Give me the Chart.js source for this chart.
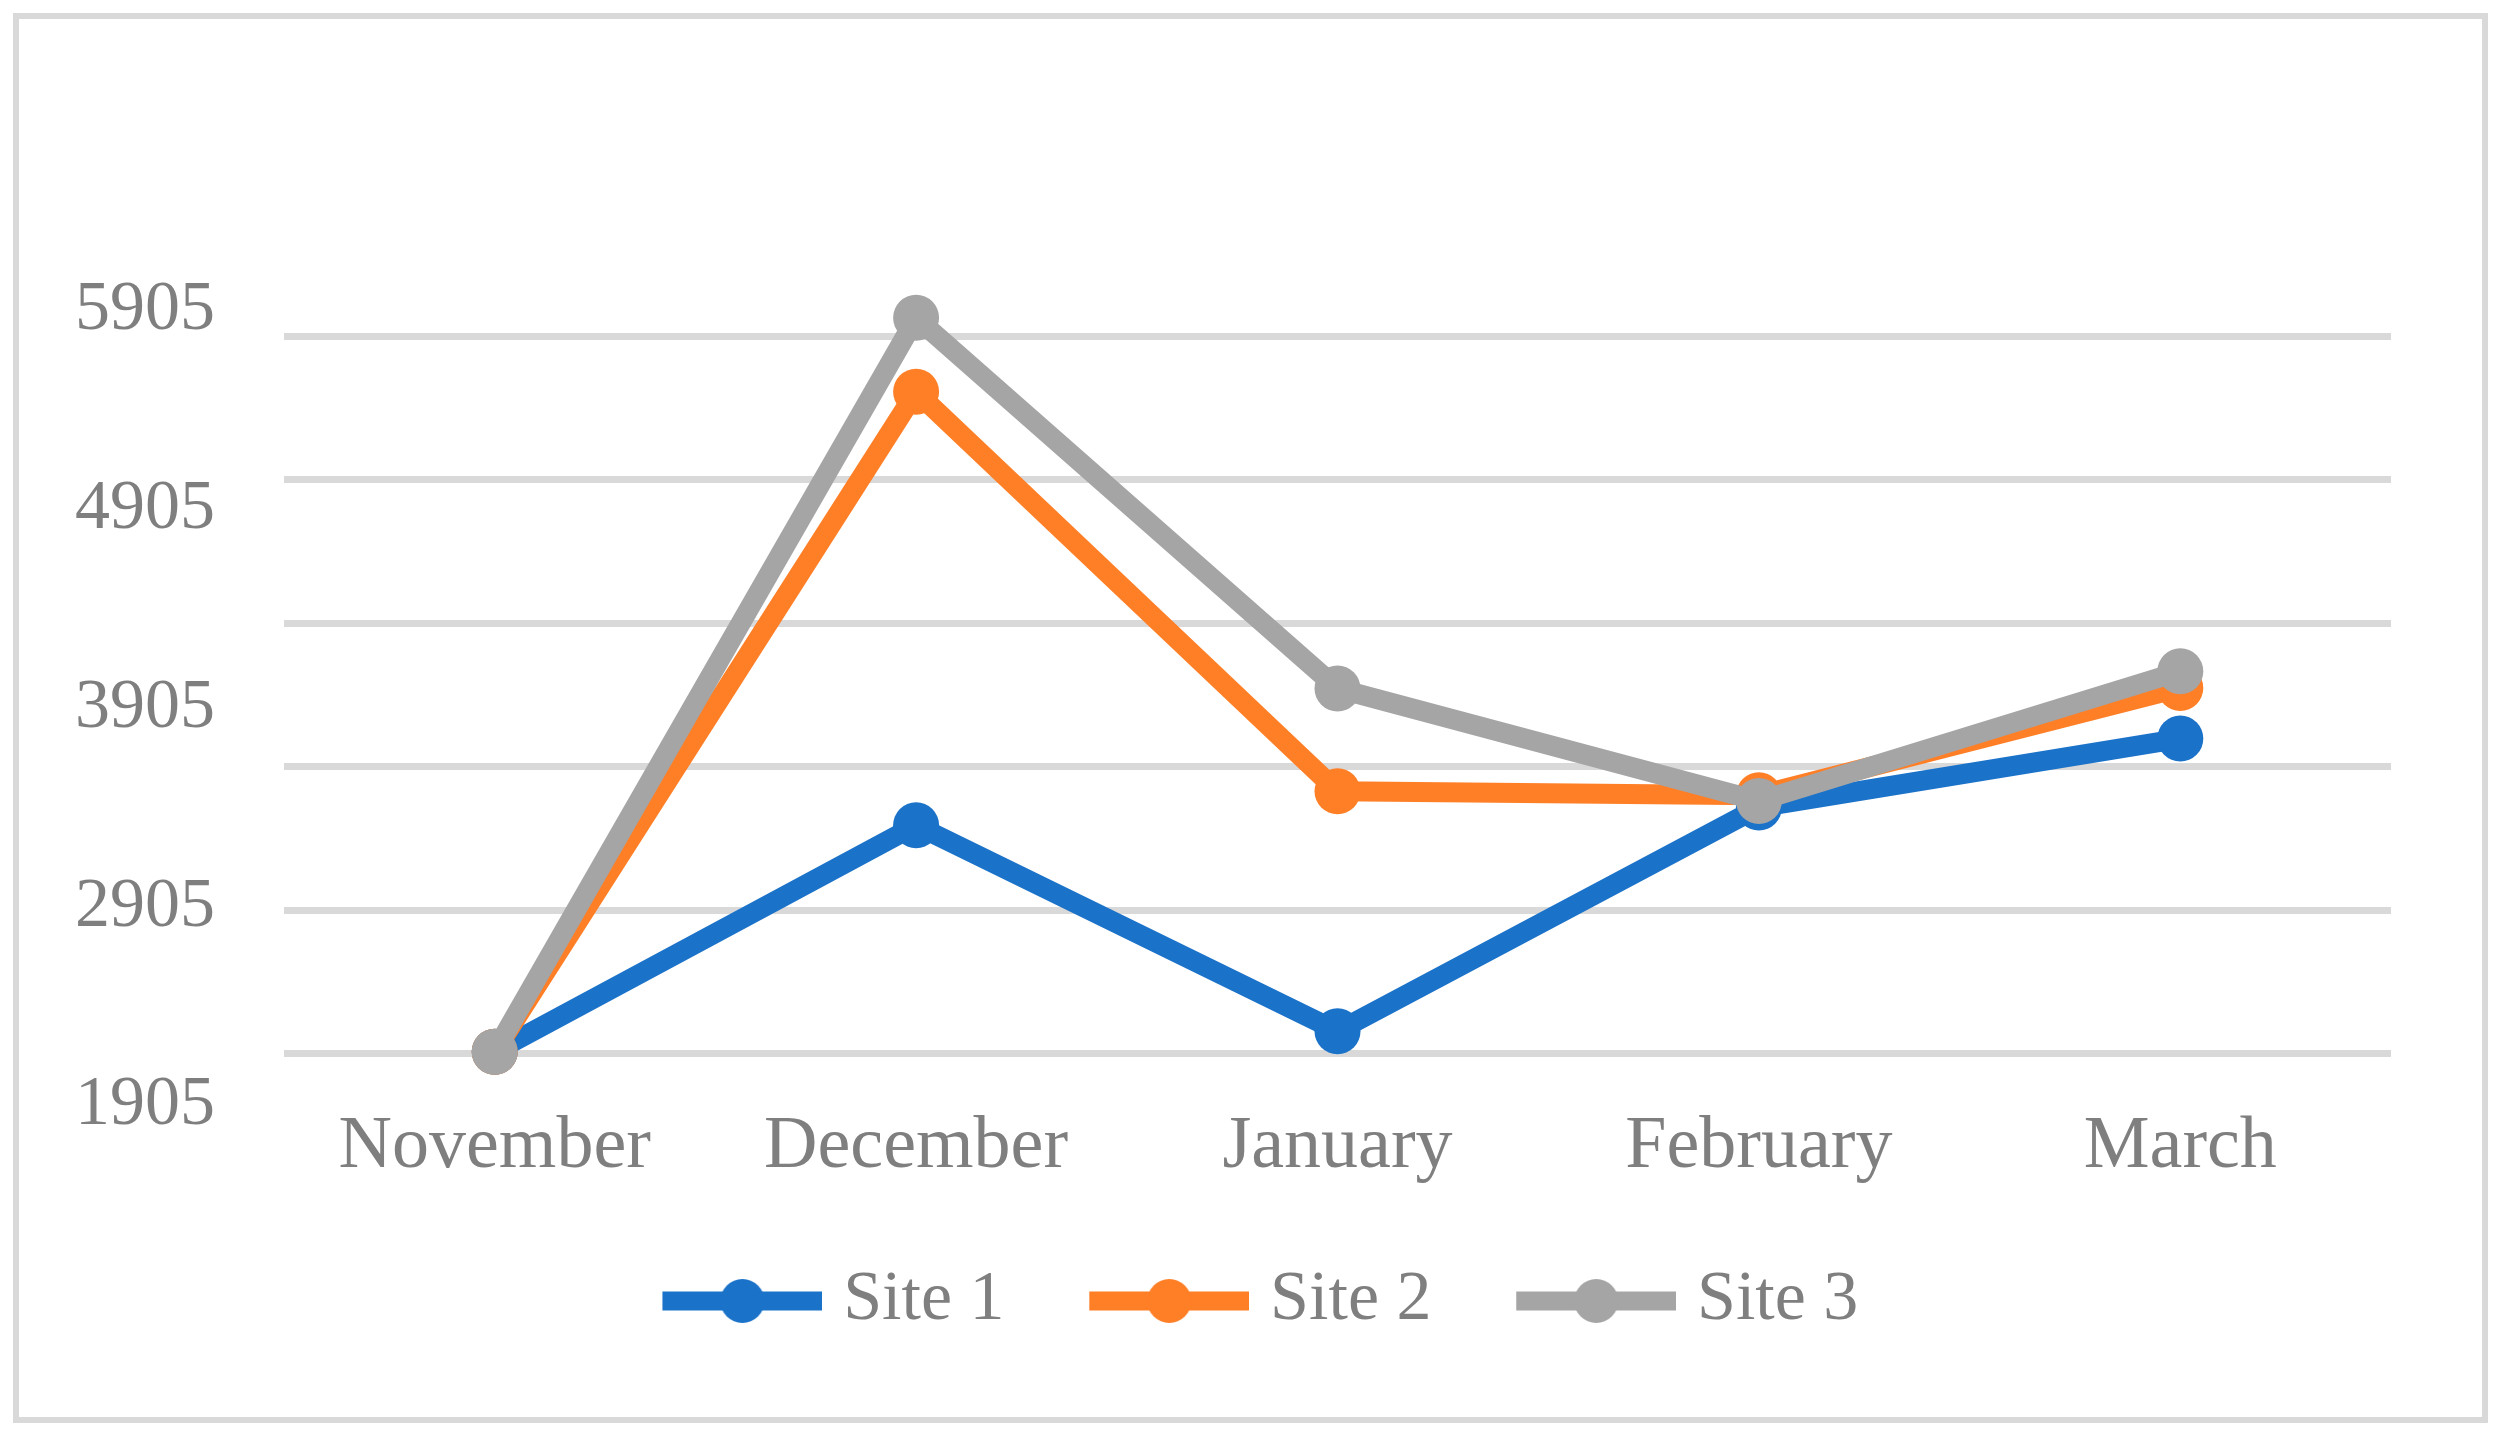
<!DOCTYPE html>
<html><head><meta charset="utf-8">
<script src="https://cdn.jsdelivr.net/npm/chart.js@4/dist/chart.umd.min.js"></script>
<style>html,body{margin:0;padding:0;background:#fff;}canvas{display:block;}</style>
</head><body>
<canvas id="c" width="2502" height="1437"></canvas>
<script>
// ---- data ----
const categories = ['November', 'December', 'January', 'February', 'March'];
const seriesNames = ['Site 1', 'Site 2', 'Site 3'];
const site1 = [2178, 3317, 2281, 3407, 3753];
const site2 = [2178, 5498, 3488, 3468, 4008];
const site3 = [2178, 5870, 4005, 3439, 4092];
const yTickValues = [1905, 2905, 3905, 4905, 5905];
const yTickLabels = ['1905', '2905', '3905', '4905', '5905'];
const gridSteps = [0, 1, 2, 3, 4, 5];

// ---- styles ----
const colors = ['#1B72C9', '#FF7F27', '#A5A5A5'];
const textColor = '#7F7F7F';
const gridColor = '#D9D9D9';
const FONT = "'Liberation Serif', 'Times New Roman', serif";

function makeIcon(color) {
  const c = document.createElement('canvas');
  c.width = 229; c.height = 50;
  const g = c.getContext('2d');
  g.strokeStyle = color; g.lineWidth = 19;
  g.beginPath(); g.moveTo(69, 25); g.lineTo(229, 25); g.stroke();
  g.fillStyle = color;
  g.beginPath(); g.arc(149, 25, 22, 0, Math.PI * 2); g.fill();
  return c;
}
const icons = colors.map(makeIcon);

const framePlugin = {
  id: 'frame',
  beforeDraw(chart) {
    const ctx = chart.ctx;
    ctx.save();
    ctx.fillStyle = '#fff';
    ctx.fillRect(0, 0, chart.width, chart.height);
    ctx.strokeStyle = gridColor;
    ctx.lineWidth = 6;
    ctx.strokeRect(16, 16, chart.width - 33, chart.height - 33);
    ctx.restore();
  }
};

const seriesData = [site1, site2, site3];
const datasets = seriesNames.map((name, i) => ({
  label: name,
  data: seriesData[i],
  borderColor: colors[i],
  backgroundColor: colors[i],
  borderWidth: 20,
  pointRadius: 23,
  pointHoverRadius: 23,
  pointBorderWidth: 0,
  pointBackgroundColor: colors[i],
  borderJoinStyle: 'round',
  borderCapStyle: 'round',
  tension: 0,
  order: 3 - i,
  yAxisID: 'y'
}));

new Chart(document.getElementById('c'), {
  type: 'line',
  data: { labels: categories, datasets },
  plugins: [framePlugin],
  options: {
    responsive: false,
    animation: false,
    devicePixelRatio: 1,
    layout: { padding: { left: 75, right: 111, top: 272, bottom: 91 } },
    plugins: {
      tooltip: { enabled: false },
      legend: {
        position: 'bottom',
        labels: {
          usePointStyle: true,
          pointStyleWidth: 200.5,
          padding: 30,
          color: textColor,
          font: { family: FONT, size: 70 },
          sort: (a, b) => a.datasetIndex - b.datasetIndex,
          generateLabels(chart) {
            const items = Chart.defaults.plugins.legend.labels.generateLabels(chart);
            items.forEach((it) => { it.pointStyle = icons[it.datasetIndex]; });
            return items;
          }
        }
      }
    },
    scales: {
      x: {
        offset: true,
        grid: { display: false, drawTicks: false },
        border: { display: false },
        ticks: { color: textColor, font: { family: FONT, size: 74 }, padding: -3, maxRotation: 0 },
        afterFit(scale) { scale.height = 130; }
      },
      y: {
        position: 'left',
        min: 1905,
        max: 6100,
        grid: { display: false, drawTicks: false },
        border: { display: false },
        ticks: {
          color: textColor, font: { family: FONT, size: 70 }, padding: 69,
          callback: (v) => { const k = yTickValues.indexOf(v); return k >= 0 ? yTickLabels[k] : ''; }
        },
        afterBuildTicks(scale) { scale.ticks = yTickValues.map(v => ({ value: v })); },
        afterFit(scale) { scale.width = 209; }
      },
      yg: {
        position: 'right',
        min: -0.364,
        max: 5.45,
        grid: { color: gridColor, lineWidth: 7, drawTicks: false },
        border: { display: false },
        ticks: { display: false },
        afterBuildTicks(scale) { scale.ticks = gridSteps.map(v => ({ value: v })); }
      }
    }
  }
});
</script>
</body></html>
